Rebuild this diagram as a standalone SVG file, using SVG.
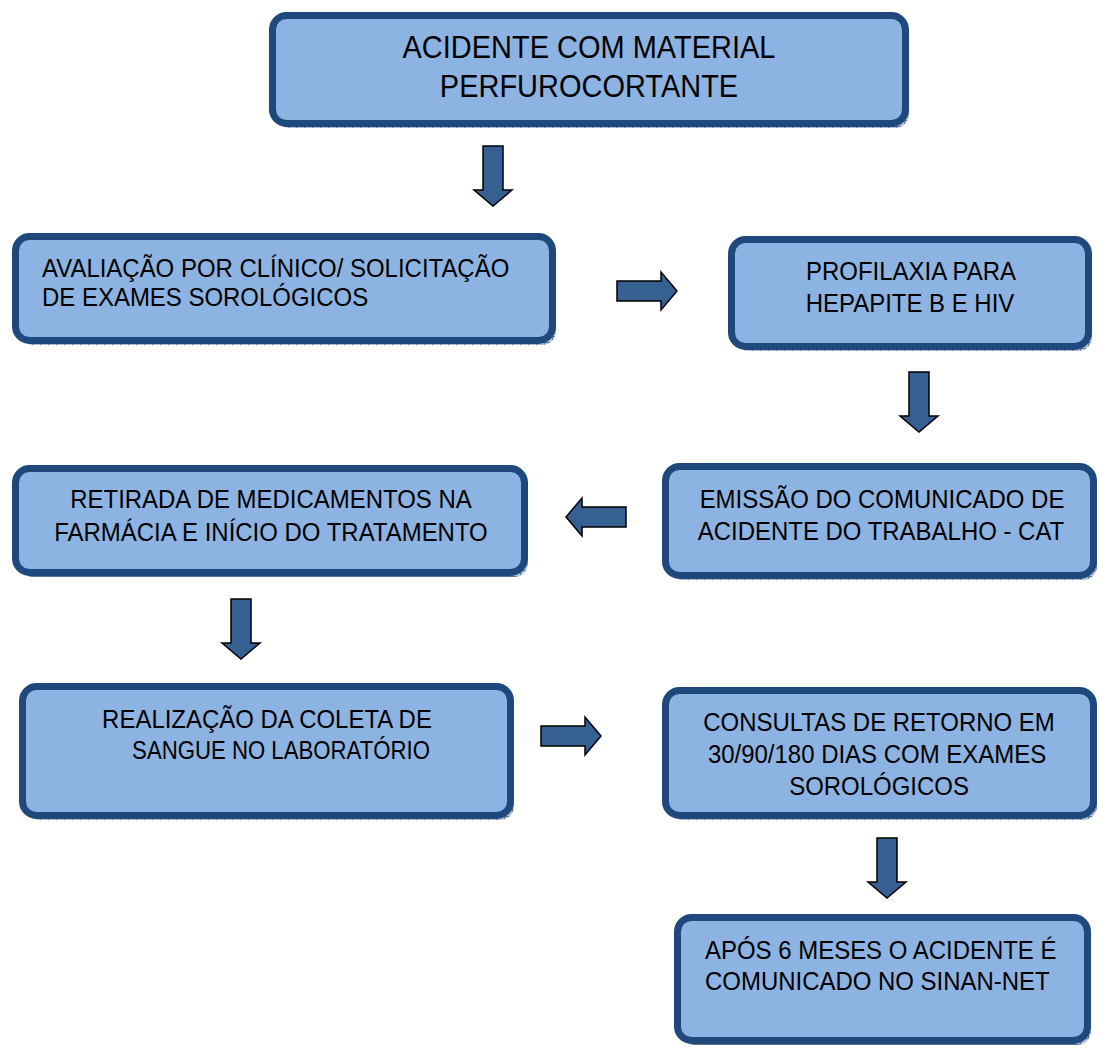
<svg xmlns="http://www.w3.org/2000/svg" width="1099" height="1048" viewBox="0 0 1099 1048">
<style>
.box{fill:#8DB3E2;stroke:#1F497D;stroke-width:7}
.shadow{fill:url(#hatch);stroke:none}
.t{font-family:"Liberation Sans",Arial,sans-serif;font-size:25.5px;fill:#000}
.tc{text-anchor:middle}
.big{font-size:31px}
.arrow{fill:#376092;stroke:#000;stroke-width:1.5;stroke-linejoin:miter}
</style>
<defs>
<pattern id="hatch" width="8" height="6" patternUnits="userSpaceOnUse">
<rect width="8" height="6" fill="#B3BED0"/>
<path d="M0,0.5H8M0.5,0V6" stroke="#5C7499" stroke-width="1"/>
</pattern>
<path id="arr" d="M0,-10H44V-19L60,0L44,19V10H0Z"/>
</defs>
<rect width="1099" height="1048" fill="#fff"/>

<g id="n1">
<rect class="shadow" x="276" y="20" width="633" height="108" rx="14"/>
<rect class="box" x="272.5" y="15.5" width="633" height="108" rx="14"/>
<text class="t tc big" transform="matrix(0.935,0,0,1,589,58)">ACIDENTE COM MATERIAL</text>
<text class="t tc big" transform="matrix(0.935,0,0,1,589,97)">PERFUROCORTANTE</text>
</g>

<g id="n2">
<rect class="shadow" x="19" y="241" width="537" height="104" rx="14"/>
<rect class="box" x="15.5" y="236.5" width="537" height="104" rx="14"/>
<text class="t" transform="matrix(0.94,0,0,1,42,277)">AVALIAÇÃO POR CLÍNICO/ SOLICITAÇÃO</text>
<text class="t" transform="matrix(0.94,0,0,1,42,306)">DE EXAMES SOROLÓGICOS</text>
</g>

<g id="n3">
<rect class="shadow" x="735" y="244" width="357" height="107" rx="14"/>
<rect class="box" x="731.5" y="239.5" width="357" height="107" rx="14"/>
<text class="t tc" transform="matrix(0.94,0,0,1,911,280)">PROFILAXIA PARA</text>
<text class="t tc" transform="matrix(0.94,0,0,1,910,312)">HEPAPITE B E HIV</text>
</g>

<g id="n4">
<rect class="shadow" x="19" y="473" width="509" height="104" rx="14"/>
<rect class="box" x="15.5" y="468.5" width="509" height="104" rx="14"/>
<text class="t tc" transform="matrix(0.94,0,0,1,271,508)">RETIRADA DE MEDICAMENTOS NA</text>
<text class="t tc" transform="matrix(0.94,0,0,1,271,541)">FARMÁCIA E INÍCIO DO TRATAMENTO</text>
</g>

<g id="n5">
<rect class="shadow" x="669" y="471" width="428" height="109" rx="14"/>
<rect class="box" x="665.5" y="466.5" width="428" height="109" rx="14"/>
<text class="t tc" transform="matrix(0.94,0,0,1,882,508)">EMISSÃO DO COMUNICADO DE</text>
<text class="t tc" transform="matrix(0.94,0,0,1,881,540)">ACIDENTE DO TRABALHO - CAT</text>
</g>

<g id="n6">
<rect class="shadow" x="26" y="691" width="488" height="129" rx="14"/>
<rect class="box" x="22.5" y="686.5" width="488" height="129" rx="14"/>
<text class="t tc" transform="matrix(0.94,0,0,1,267,728)">REALIZAÇÃO DA COLETA DE</text>
<text class="t tc" transform="matrix(0.87,0,0,1,281,759)">SANGUE NO LABORATÓRIO</text>
</g>

<g id="n7">
<rect class="shadow" x="669" y="695" width="428" height="125" rx="14"/>
<rect class="box" x="665.5" y="690.5" width="428" height="125" rx="14"/>
<text class="t tc" transform="matrix(0.94,0,0,1,879,731)">CONSULTAS DE RETORNO EM</text>
<text class="t tc" transform="matrix(0.94,0,0,1,877,763)">30/90/180 DIAS COM EXAMES</text>
<text class="t tc" transform="matrix(0.94,0,0,1,879,795)">SOROLÓGICOS</text>
</g>

<g id="n8">
<rect class="shadow" x="681" y="922" width="410" height="123" rx="14"/>
<rect class="box" x="677.5" y="917.5" width="410" height="123" rx="14"/>
<text class="t" transform="matrix(0.94,0,0,1,705,959)">APÓS 6 MESES O ACIDENTE É</text>
<text class="t" transform="matrix(0.94,0,0,1,705,990)">COMUNICADO NO SINAN-NET</text>
</g>

<g id="connectors">
<use href="#arr" class="arrow" transform="translate(493,146) rotate(90)"/>
<use href="#arr" class="arrow" transform="translate(617,291)"/>
<use href="#arr" class="arrow" transform="translate(919,372) rotate(90)"/>
<use href="#arr" class="arrow" transform="translate(626,517) rotate(180)"/>
<use href="#arr" class="arrow" transform="translate(241,599) rotate(90)"/>
<use href="#arr" class="arrow" transform="translate(541,736)"/>
<use href="#arr" class="arrow" transform="translate(887,838) rotate(90)"/>
</g>
</svg>
